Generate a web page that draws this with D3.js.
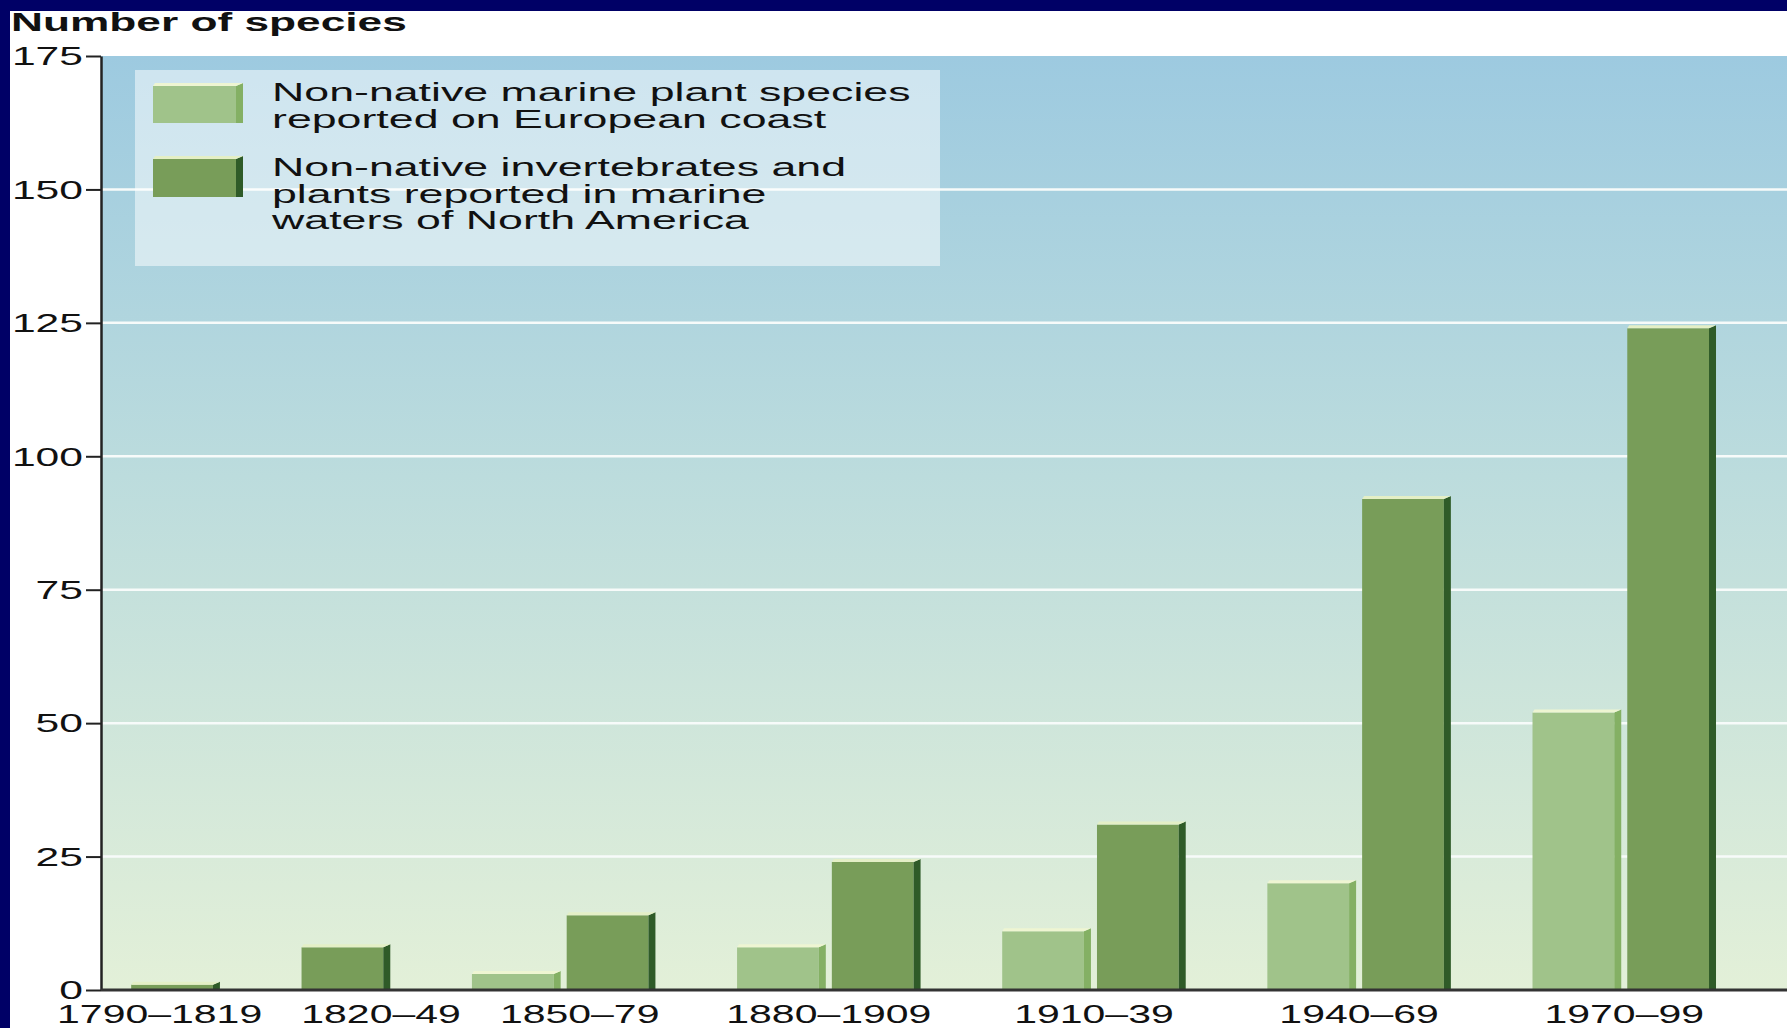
<!DOCTYPE html>
<html>
<head>
<meta charset="utf-8">
<script src="https://cdn.jsdelivr.net/npm/d3@7"></script>
<style>
    html, body { margin: 0; padding: 0; background: #000066; overflow: hidden; }
    svg { display: block; }
    text { font-family: "Liberation Sans", Arial, Helvetica, sans-serif; fill: #111; }
</style>
</head>
<body>
<svg id="mainSVG" width="1787" height="1028"></svg>
<script>
// data
const periods = ["1790–1819", "1820–49", "1850–79", "1880–1909", "1910–39", "1940–69", "1970–99"];
const europePlants = [null, null, 3, 8, 11, 20, 52];      // light bars
const northAmerica = [1, 8, 14, 24, 31, 92, 124];         // dark bars
const yTicks = [0, 25, 50, 75, 100, 125, 150, 175];
const yTitle = "Number of species";
const legendLabels = [
    ["Non-native marine plant species", "reported on European coast"],
    ["Non-native invertebrates and", "plants reported in marine", "waters of North America"]
];

const width = 1787, height = 1028;
const axisX = 101, yZero = 990, yTop = 56;
const SX = 1.64;         // the picture is stretched sideways, so is the text
const depth = 7, rise = 3;
const labelStart = 57, labelGap = 39;

const colors = {
    light: {front: "#a0c38a", side: "#84b064", top: "#eef5d2"},
    dark: {front: "#789d59", side: "#2f5b28", top: "#e4efc6"}
};

const svg = d3.select("#mainSVG");

svg.append("rect")
    .attr("x", 10).attr("y", 11)
    .attr("width", width).attr("height", height)
    .attr("fill", "#ffffff");

const defs = svg.append("defs");
const grad = defs.append("linearGradient")
    .attr("id", "bg").attr("x1", 0).attr("y1", 0).attr("x2", 0).attr("y2", 1);
grad.append("stop").attr("offset", "0%").attr("stop-color", "#9dcae0");
grad.append("stop").attr("offset", "45%").attr("stop-color", "#bcdcdd");
grad.append("stop").attr("offset", "100%").attr("stop-color", "#e3f0d8");

const y = d3.scaleLinear().domain([0, 175]).range([yZero, yTop]);

// bars laid out one after the other, small gap in a group, wide gap between groups
const startGap = 0.34, inGap = 0.068, groupGap = 0.92, endGap = 0.8;
const bars = [];
const groups = [];
let pos = startGap;
periods.forEach((p, i) => {
    const members = [];
    if (europePlants[i] != null) members.push({period: p, kind: "light", value: europePlants[i]});
    if (northAmerica[i] != null) members.push({period: p, kind: "dark", value: northAmerica[i]});
    const g0 = pos;
    members.forEach((m, j) => {
        m.pos = pos;
        bars.push(m);
        pos += 1;
        if (j < members.length - 1) pos += inGap;
    });
    groups.push({period: p, start: g0, end: pos});
    pos += (i < periods.length - 1) ? groupGap : endGap;
});
const x = d3.scaleLinear().domain([0, pos]).range([axisX, width]);
const unit = x(1) - x(0);

// plot background
svg.append("rect")
    .attr("x", axisX).attr("y", y(175))
    .attr("width", width - axisX).attr("height", y(0) - y(175))
    .attr("fill", "url(#bg)");

// gridlines
svg.append("g")
    .selectAll("line")
    .data(yTicks.filter(d => d > 0 && d < 175))
    .join("line")
    .attr("x1", axisX).attr("x2", width)
    .attr("y1", d => y(d)).attr("y2", d => y(d))
    .attr("stroke", "#f7fbfa").attr("stroke-width", 2.5);

// legend
const legend = svg.append("g");
legend.append("rect")
    .attr("x", 135).attr("y", 70).attr("width", 805).attr("height", 196)
    .attr("fill", "#ffffff").attr("fill-opacity", 0.5);

function box(sel, x0, x1, top, base, c) {
    const xf = x1 - depth;
    sel.append("rect")
        .attr("x", x0).attr("y", top)
        .attr("width", xf - x0).attr("height", Math.max(0, base - top))
        .attr("fill", c.front);
    sel.append("polygon")
        .attr("points", [[xf, top], [x1, top - rise], [x1, base], [xf, base]].join(" "))
        .attr("fill", c.side);
    sel.append("polygon")
        .attr("points", [[x0, top], [x0 + 2, top - rise], [x1, top - rise], [xf, top]].join(" "))
        .attr("fill", c.top);
}

const legendRows = [{kind: "light", top: 86, base: 123, lines: legendLabels[0], y0: 101},
    {kind: "dark", top: 159, base: 197, lines: legendLabels[1], y0: 176}];
legendRows.forEach(r => {
    box(legend, 153, 243, r.top, r.base, colors[r.kind]);
    r.lines.forEach((t, k) => {
        legend.append("text")
            .attr("transform", `translate(272,${r.y0 + k * 26.5}) scale(1.72,1)`)
            .style("font-size", "26px")
            .text(t);
    });
});

// bars
svg.append("g")
    .selectAll("g")
    .data(bars)
    .join("g")
    .each(function (d) {
        box(d3.select(this), x(d.pos), x(d.pos) + unit, y(d.value), y(0) - 1, colors[d.kind]);
    });

// y axis
const yAxis = svg.append("g")
    .attr("transform", `translate(${axisX},0)`)
    .call(d3.axisLeft(y).tickValues(yTicks).tickSize(15).tickSizeOuter(0));
yAxis.select(".domain").attr("stroke", "#222").attr("stroke-width", 2.5);
yAxis.selectAll(".tick line").attr("stroke", "#222").attr("stroke-width", 2);
yAxis.selectAll(".tick text")
    .attr("x", -18 / SX)
    .attr("dy", "0.34em")
    .attr("transform", `scale(${SX},1)`)
    .style("font-size", "26px")
    .attr("fill", "#111");

// x baseline
svg.append("line")
    .attr("x1", axisX).attr("x2", width)
    .attr("y1", y(0)).attr("y2", y(0))
    .attr("stroke", "#333").attr("stroke-width", 3);

// category labels: first one starts under the tick labels, the rest are pushed right if crowded
const xLabels = svg.append("g")
    .selectAll("text")
    .data(groups)
    .join("text")
    .style("font-size", "25px")
    .attr("text-anchor", "middle")
    .text(d => d.period);
const cx = groups.map(g => (x(g.start) + x(g.end)) / 2);
const half = [];
xLabels.each(function (d, i) { half[i] = this.getComputedTextLength() * SX / 2; });
cx[0] = labelStart + half[0];
for (let i = 1; i < groups.length; i++) {
    const limit = cx[i - 1] + half[i - 1] + labelGap + half[i];
    if (cx[i] < limit) cx[i] = limit;
}
xLabels.attr("transform", (d, i) => `translate(${cx[i]},1023) scale(${SX},1)`);

// title
svg.append("text")
    .attr("transform", `translate(11,31) scale(1.77,1)`)
    .style("font-size", "25px")
    .style("font-weight", "bold")
    .text(yTitle);
</script>
</body>
</html>
